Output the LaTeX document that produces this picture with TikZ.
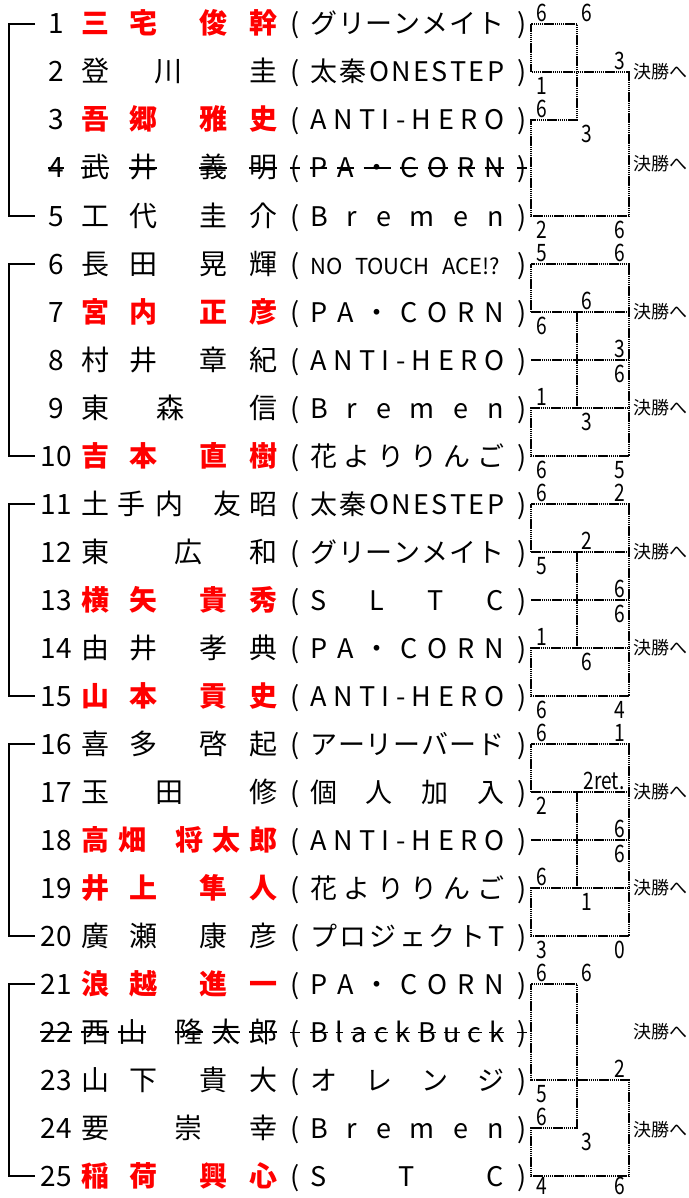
\documentclass[tikz,border=0pt]{standalone}
\usepackage{fontspec}
\setmainfont{Noto Sans CJK JP}
\newfontfamily\scorefont[FakeStretch=0.8]{Noto Sans CJK JP}
\newcommand\plainch[1]{#1}
\newcommand\strikech[1]{\setbox0=\hbox{#1}\rlap{\copy0}\rule[0.33em]{\wd0}{1.6pt}}
\newcommand\stk{}
\newcommand\spread[1]{\makebox[194pt][s]{\foreach \c [count=\k] in #1 {\ifnum\k>1 \hfill\fi\stk{\c}}}}
\newcommand\smallclub{\fontsize{22}{24}\selectfont}

\begin{document}
\begin{tikzpicture}[x=1pt,y=-1pt,
  num/.style={anchor=base,inner sep=0pt,font=\fontsize{28}{30}\selectfont},
  nm/.style={anchor=base,inner sep=0pt,font=\fontsize{28}{30}\selectfont},
  win/.style={text=red,font=\fontsize{28}{30}\selectfont\bfseries},
  lose/.style={},
  paren/.style={anchor=base,inner sep=0pt,font=\fontsize{27}{30}\selectfont},
  club/.style={anchor=base west,inner sep=0pt,font=\fontsize{27}{30}\selectfont},
  score/.style={inner sep=0pt,font=\scorefont\fontsize{24}{26}\selectfont},
  final/.style={anchor=west,inner sep=0pt,font=\fontsize{18}{20}\selectfont},
  dots/.style={line width=2.2pt,dash pattern=on 1.5pt off 0.6pt},
  bracket/.style={line width=2.5pt}]
\useasboundingbox (0,0) rectangle (688,1198);

\foreach \i/\nm/\club/\st/\sty in {
  1/{三/95,宅/143,俊/213,幹/263}/{グ,リ,ー,ン,メ,イ,ト}/0/win,
  2/{登/95,川/168,圭/263}/{太,秦,O,N,E,S,T,E,P}/0/lose,
  3/{吾/95,郷/143,雅/213,史/263}/{A,N,T,I,-,H,E,R,O}/0/win,
  4/{武/95,井/143,義/213,明/263}/{P,A,・,C,O,R,N}/1/lose,
  5/{工/95,代/143,圭/213,介/263}/{B,r,e,m,e,n}/0/lose,
  6/{長/95,田/143,晃/213,輝/263}/{{\smallclub\makebox[190pt][s]{NO TOUCH ACE!?}}}/0/lose,
  7/{宮/95,内/143,正/213,彦/263}/{P,A,・,C,O,R,N}/0/win,
  8/{村/95,井/143,章/213,紀/263}/{A,N,T,I,-,H,E,R,O}/0/lose,
  9/{東/95,森/170,信/263}/{B,r,e,m,e,n}/0/lose,
  10/{吉/95,本/143,直/213,樹/263}/{花,よ,り,り,ん,ご}/0/win,
  11/{土/95,手/131,内/169,友/227,昭/263}/{太,秦,O,N,E,S,T,E,P}/0/lose,
  12/{東/95,広/188,和/263}/{グ,リ,ー,ン,メ,イ,ト}/0/lose,
  13/{横/95,矢/143,貴/213,秀/263}/{S,L,T,C}/0/win,
  14/{由/95,井/143,孝/213,典/263}/{P,A,・,C,O,R,N}/0/lose,
  15/{山/95,本/143,貢/213,史/263}/{A,N,T,I,-,H,E,R,O}/0/win,
  16/{喜/95,多/143,啓/213,起/263}/{ア,ー,リ,ー,バ,ー,ド}/0/lose,
  17/{玉/95,田/169,修/263}/{個,人,加,入}/0/lose,
  18/{高/95,畑/132,将/189,太/226,郎/263}/{A,N,T,I,-,H,E,R,O}/0/win,
  19/{井/95,上/143,隼/213,人/263}/{花,よ,り,り,ん,ご}/0/win,
  20/{廣/95,瀬/143,康/213,彦/263}/{プ,ロ,ジ,ェ,ク,ト,T}/0/lose,
  21/{浪/95,越/143,進/213,一/263}/{P,A,・,C,O,R,N}/0/win,
  22/{西/95,山/132,隆/189,太/226,郎/263}/{B,l,a,c,k,B,u,c,k}/1/lose,
  23/{山/95,下/143,貴/213,大/263}/{オ,レ,ン,ジ}/0/lose,
  24/{要/95,崇/188,幸/263}/{B,r,e,m,e,n}/0/lose,
  25/{稲/95,荷/143,興/213,心/263}/{S,T,C}/0/win}{
  \pgfmathsetmacro\y{24+48*(\i-1)}
  \ifnum\st=1 \let\stk\strikech \else \let\stk\plainch \fi
  \coordinate (J\i) at (9,\y);
  \coordinate (K\i) at (35,\y);
  \coordinate (L\i) at (531,\y);
  \coordinate (M\i) at (577,\y);
  \coordinate (R\i) at (629,\y);
  \node[num] (n\i) at (56,\y+10) {\stk{\i}};
  \foreach \c/\x [count=\k] in \nm {\node[nm,\sty] (p\i-\k) at (\x,\y+10) {\stk{\c}};}
  \node[paren] (o\i) at (295,\y+10) {\stk{(}};
  \node[club] (c\i) at (310,\y+10) {\spread{\club}};
  \node[paren] (e\i) at (522,\y+10) {\stk{)}};
}

\foreach \a/\b in {1/5,6/10,11/15,16/20,21/25}
  \draw[bracket] (K\a) -- (J\a) -- (J\b) -- (K\b);

\draw[dots] (M1) -- (L1) -- (L2) -- (R2) -- (R5) -- (L5) -- (L3) -- (M3) -- (M1);
\foreach \a/\b/\c/\d/\e in {6/7/8/9/10,11/12/13/14/15,16/17/18/19/20}{
  \draw[dots] (L\b) -- (L\a) -- (R\a) -- (R\e) -- (L\e) -- (L\d) -- (R\d);
  \draw[dots] (L\b) -- (R\b) (L\c) -- (R\c) (M\b) -- (M\d);
}
\draw[dots] (M21) -- (L21) -- (L23) -- (R23) -- (R25) -- (L25) -- (L24) -- (M24) -- (M21);

\foreach \x/\y/\t [count=\k] in {
  542/13/6,587/13/6,542/86/1,620/61/3,542/109/6,587/134/3,542/230/2,620/230/6,
  542/253/5,620/253/6,587/301/6,542/326/6,620/349/3,620/374/6,542/397/1,587/422/3,542/470/6,620/470/5,
  542/493/6,620/493/2,587/541/2,542/566/5,620/589/6,620/614/6,542/637/1,587/662/6,542/710/6,620/710/4,
  542/733/6,620/733/1,604/781/2ret.,542/806/2,620/829/6,620/854/6,542/877/6,587/902/1,542/950/3,620/950/0,
  542/973/6,587/973/6,620/1069/2,542/1094/5,542/1117/6,587/1142/3,542/1186/4,620/1186/6}
  \node[score] (s\k) at (\x,\y) {\t};

\foreach \y [count=\k] in {72,164,312,408,552,648,792,888,1032,1130}
  \node[final] (f\k) at (633,\y) {決勝へ};
\end{tikzpicture}
\end{document}
